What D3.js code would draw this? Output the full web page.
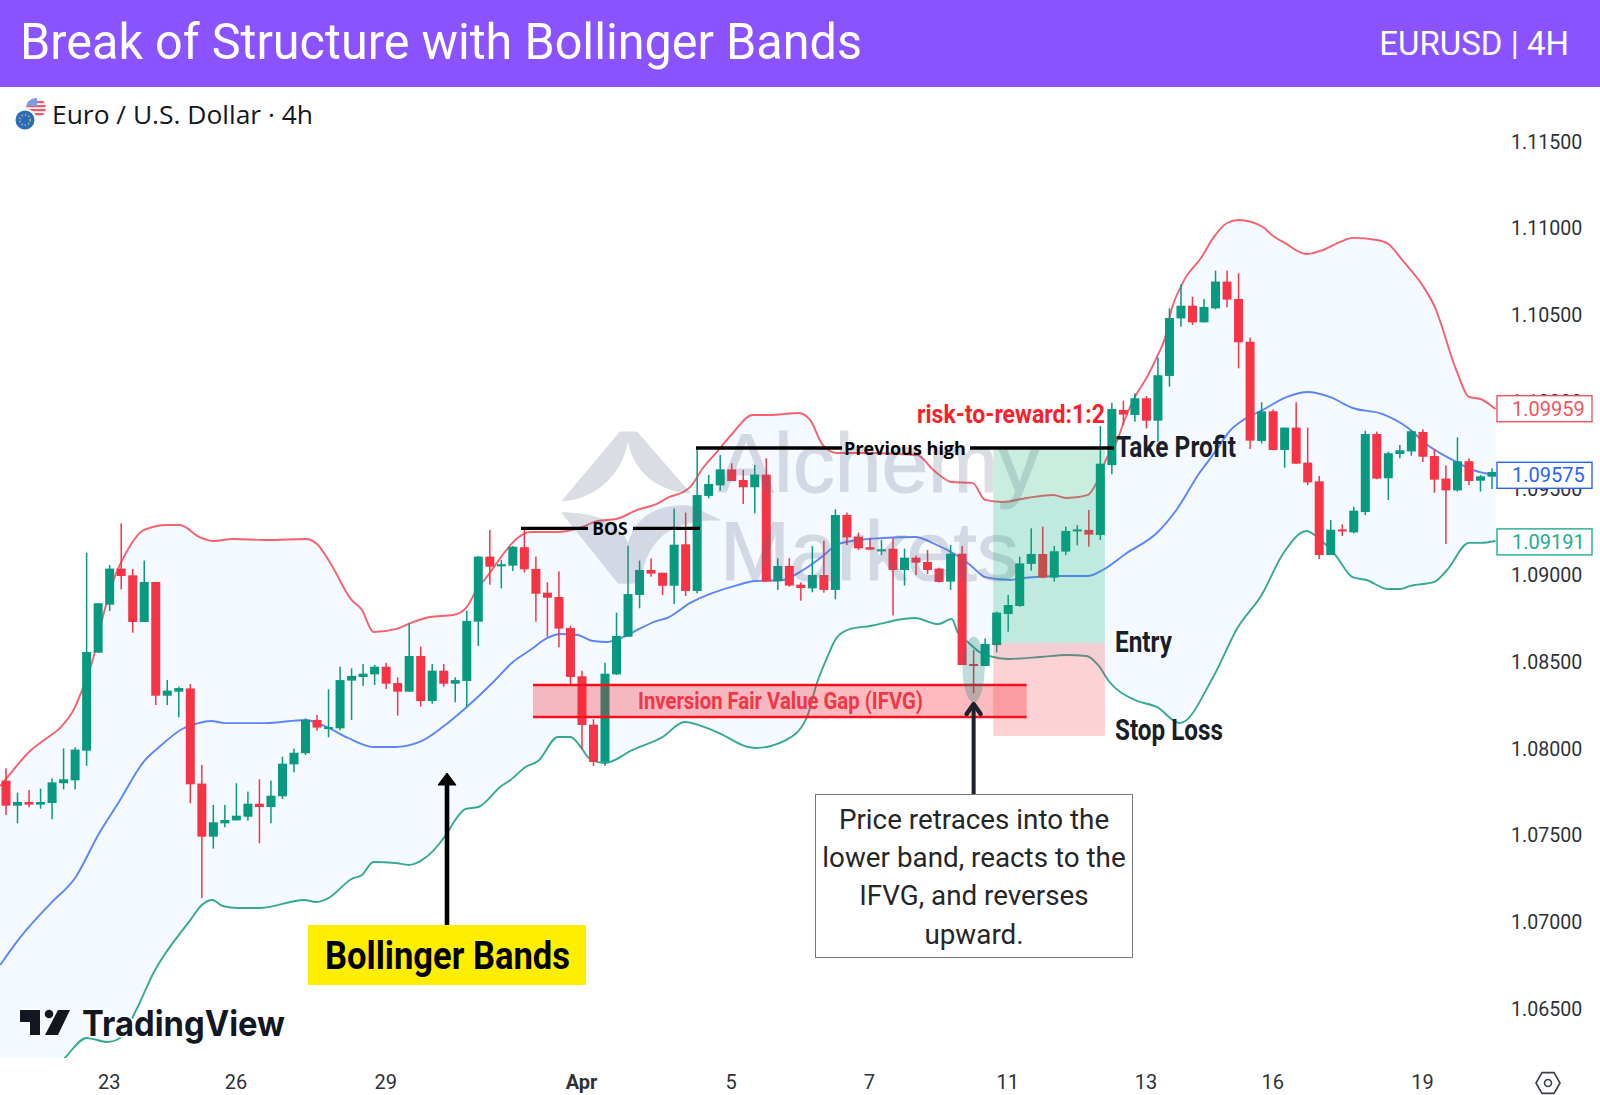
<!DOCTYPE html>
<html>
<head>
<meta charset="utf-8">
<script src="https://cdn.jsdelivr.net/npm/d3@7"></script>
<style>
  html, body { margin: 0; padding: 0; background: #fff; }
  svg { display: block; }
</style>
</head>
<body>
<div id="chart"></div>
<script>
const opens = [
  1.07814,1.07670,1.07691,1.07676,1.07685,1.07799,1.07816,1.07987,1.08552,1.08829,
  1.09037,1.08998,1.08729,1.08960,1.08304,1.08327,1.08346,1.07797,1.07491,1.07568,
  1.07585,1.07606,1.07681,1.07662,1.07724,1.07908,1.07972,1.08164,1.08118,1.08116,
  1.08391,1.08412,1.08427,1.08471,1.08377,1.08327,1.08533,1.08273,1.08448,1.08373,
  1.08389,1.08731,1.09106,1.09050,1.09054,1.09160,1.09035,1.08898,1.08873,1.08694,
  1.08416,1.08137,1.07922,1.08427,1.08644,1.08885,1.09029,1.09013,1.08938,1.09177,
  1.08908,1.09456,1.09517,1.09609,1.09548,1.09506,1.09579,1.08964,1.09052,1.08944,
  1.08923,1.09000,1.08914,1.09346,1.09221,1.09160,1.09144,1.09152,1.09029,1.09100,
  1.09075,1.09037,1.08962,1.09123,1.08487,1.08475,1.08596,1.08775,1.08821,1.09064,
  1.09121,1.08985,1.09135,1.09256,1.09260,1.09231,1.09634,1.09952,1.09923,1.10019,
  1.09890,1.10148,1.10480,1.10553,1.10457,1.10538,1.10692,1.10592,1.10345,1.09773,
  1.09944,1.09721,1.09850,1.09648,1.09540,1.09115,1.09263,1.09246,1.09363,1.09813,
  1.09558,1.09698,1.09713,1.09825,1.09686,1.09556,1.09488,1.09656,1.09544,1.09567
]
const highs = [
  1.07885,1.07745,1.07760,1.07768,1.07827,1.08000,1.08006,1.09129,1.08837,1.09058,
  1.09298,1.09035,1.09083,1.08960,1.08395,1.08356,1.08371,1.07904,1.07674,1.07674,
  1.07799,1.07751,1.07822,1.07814,1.07952,1.07999,1.08173,1.08193,1.08341,1.08471,
  1.08462,1.08487,1.08481,1.08494,1.08410,1.08721,1.08587,1.08487,1.08487,1.08410,
  1.08794,1.09110,1.09260,1.09086,1.09167,1.09260,1.09106,1.08958,1.09021,1.08708,
  1.08448,1.08168,1.08494,1.08783,1.09169,1.09083,1.09096,1.09013,1.09384,1.09360,
  1.09736,1.09577,1.09692,1.09644,1.09606,1.09634,1.09673,1.09096,1.09096,1.08958,
  1.09167,1.09198,1.09379,1.09360,1.09244,1.09215,1.09202,1.09212,1.09152,1.09112,
  1.09144,1.09042,1.09173,1.09167,1.08568,1.08635,1.08789,1.08885,1.09106,1.09269,
  1.09279,1.09167,1.09279,1.09288,1.09375,1.09859,1.09994,1.10005,1.10048,1.10032,
  1.10255,1.10538,1.10676,1.10605,1.10592,1.10755,1.10755,1.10740,1.10369,1.09996,
  1.09955,1.09850,1.09996,1.09850,1.09571,1.09317,1.09292,1.09394,1.09832,1.09827,
  1.09711,1.09750,1.09836,1.09840,1.09725,1.09631,1.09794,1.09673,1.09577,1.09615
]
const lows = [
  1.07616,1.07568,1.07660,1.07652,1.07591,1.07764,1.07764,1.07900,1.08552,1.08792,
  1.08917,1.08667,1.08729,1.08250,1.08250,1.08179,1.07683,1.07137,1.07422,1.07545,
  1.07585,1.07583,1.07453,1.07568,1.07708,1.07862,1.07962,1.08102,1.08064,1.08105,
  1.08164,1.08360,1.08366,1.08343,1.08189,1.08327,1.08241,1.08258,1.08356,1.08266,
  1.08241,1.08591,1.08944,1.08923,1.09023,1.09015,1.08731,1.08644,1.08583,1.08371,
  1.07995,1.07899,1.07899,1.08423,1.08644,1.08808,1.08990,1.08885,1.08833,1.08879,
  1.08894,1.09442,1.09486,1.09542,1.09410,1.09356,1.08962,1.08914,1.08933,1.08852,
  1.08900,1.08898,1.08860,1.09173,1.09144,1.09144,1.09115,1.08767,1.08939,1.09000,
  1.09006,1.08956,1.08914,1.08481,1.08318,1.08475,1.08554,1.08673,1.08817,1.09025,
  1.08981,1.08962,1.09115,1.09171,1.09163,1.09202,1.09581,1.09865,1.09884,1.09846,
  1.09769,1.10086,1.10432,1.10442,1.10457,1.10532,1.10544,1.10192,1.09727,1.09759,
  1.09721,1.09619,1.09642,1.09519,1.09092,1.09115,1.09225,1.09240,1.09346,1.09552,
  1.09433,1.09673,1.09688,1.09652,1.09475,1.09179,1.09481,1.09519,1.09481,1.09496
]
const closes = [
  1.07670,1.07691,1.07676,1.07691,1.07804,1.07822,1.07993,1.08556,1.08837,1.09037,
  1.08994,1.08729,1.08960,1.08304,1.08333,1.08348,1.07793,1.07491,1.07574,1.07587,
  1.07612,1.07681,1.07662,1.07727,1.07912,1.07975,1.08164,1.08120,1.08123,1.08394,
  1.08418,1.08431,1.08471,1.08373,1.08327,1.08533,1.08273,1.08448,1.08373,1.08394,
  1.08735,1.09106,1.09048,1.09062,1.09163,1.09033,1.08892,1.08869,1.08691,1.08412,
  1.08135,1.07922,1.08431,1.08648,1.08890,1.09029,1.09008,1.08938,1.09175,1.08908,
  1.09461,1.09525,1.09609,1.09542,1.09506,1.09579,1.08962,1.09052,1.08939,1.08925,
  1.09000,1.08914,1.09346,1.09217,1.09154,1.09146,1.09148,1.09029,1.09100,1.09071,
  1.09029,1.08960,1.09123,1.08481,1.08475,1.08602,1.08783,1.08827,1.09067,1.09121,
  1.08985,1.09137,1.09254,1.09263,1.09233,1.09642,1.09957,1.09925,1.10019,1.09890,
  1.10152,1.10482,1.10553,1.10457,1.10546,1.10692,1.10588,1.10342,1.09775,1.09944,
  1.09721,1.09850,1.09642,1.09534,1.09115,1.09261,1.09252,1.09371,1.09813,1.09556,
  1.09702,1.09719,1.09829,1.09682,1.09550,1.09488,1.09656,1.09542,1.09569,1.09594
]

// bollinger lines, [candle index, price] at the visible bends
const upperBand = [
  [-0.5,1.07783],[0,1.07824],[2,1.07979],[3.8,1.08072],[4.7,1.08118],[6,1.08239],[6.6,1.08337],[7.6,1.08527],[8.4,1.08758],[9.6,1.09017],
  [10.1,1.09087],[12,1.09260],[14,1.09288],[15.1,1.09288],[16.8,1.09219],[18,1.09196],[19.7,1.09208],[22.7,1.09202],[26,1.09208],[27,1.09179],
  [28.1,1.09075],[30,1.08856],[30.9,1.08798],[31.9,1.08671],[33.9,1.08689],[35.1,1.08723],[36.8,1.08758],[38.8,1.08769],[40,1.08815],[40.7,1.08896],
  [42,1.09012],[43.1,1.09115],[44.4,1.09213],[45.5,1.09248],[47.8,1.09248],[49.8,1.09271],[51.3,1.09311],[53,1.09323],[54.8,1.09375],[56.5,1.09410],
  [57.6,1.09450],[58.8,1.09479],[59.4,1.09508],[60.5,1.09617],[61.7,1.09709],[63.1,1.09819],[64.8,1.09923],[66.3,1.09923],[68.8,1.09934],[69.8,1.09894],
  [70.9,1.09750],[72.1,1.09704],[74.7,1.09704],[79.1,1.09692],[80.5,1.09606],[82.1,1.09536],[83.9,1.09531],[85,1.09433],[86.5,1.09421],[88.6,1.09444],
  [90.9,1.09461],[92.1,1.09444],[93.9,1.09461],[94.7,1.09536],[95.6,1.09681],[96.4,1.09767],[97.1,1.09894],[98,1.10027],[99,1.10136],[99.9,1.10257],
  [100.8,1.10413],[101,1.10482],[102.1,1.10678],[103.8,1.10834],[104.8,1.10944],[106,1.11030],[107,1.11047],[109.1,1.11007],[110,1.10955],[111,1.10915],
  [112.9,1.10851],[114.1,1.10869],[116,1.10926],[116.9,1.10944],[119,1.10932],[120,1.10909],[121.2,1.10817],[123,1.10667],[124,1.10551],[125.9,1.10182],
  [127,1.10027],[128,1.10015],[129.3,1.09957]
]
const middleBand = [
  [-0.5,1.06751],[1.2,1.06907],[3.9,1.07108],[6,1.07253],[8.1,1.07512],[9.8,1.07691],[12,1.07927],[13.2,1.08002],[15.3,1.08112],[16.7,1.08146],
  [17.8,1.08158],[19,1.08146],[22.5,1.08146],[26,1.08164],[28,1.08118],[29.7,1.08060],[31.9,1.08008],[33.8,1.08008],[35.9,1.08037],[37.9,1.08123],
  [40,1.08239],[42.3,1.08383],[44,1.08498],[45.5,1.08567],[47,1.08637],[48.1,1.08660],[49.6,1.08654],[51,1.08619],[52.2,1.08614],[53.6,1.08642],
  [54.8,1.08683],[56.5,1.08735],[57.4,1.08752],[59.4,1.08839],[63.5,1.08942],[65,1.08965],[67.4,1.08971],[69.2,1.09029],[70.7,1.09098],[72.1,1.09173],
  [73.4,1.09196],[76.1,1.09213],[78.9,1.09219],[80.8,1.09173],[82.2,1.09127],[83.7,1.09058],[85,1.08988],[87.2,1.08971],[88.3,1.08983],[91.5,1.08994],
  [93.9,1.08994],[95.2,1.09029],[97.3,1.09127],[99.9,1.09242],[101.6,1.09375],[103.6,1.09588],[104.9,1.09704],[106.3,1.09836],[107.4,1.09894],[109.1,1.09952],
  [111.2,1.10027],[113,1.10055],[114.9,1.10027],[116.9,1.09963],[119.5,1.09928],[121.6,1.09854],[123.4,1.09750],[125.6,1.09663],[127.3,1.09606],[129.3,1.09577]
]
const lowerBand = [
  [-0.5,1.05828],[5.1,1.06215],[7,1.06330],[8.8,1.06307],[9.9,1.06330],[11.3,1.06491],[12.8,1.06705],[16,1.07010],[17,1.07097],[17.9,1.07126],
  [18.8,1.07091],[20.1,1.07080],[22.1,1.07080],[25.9,1.07126],[26.9,1.07114],[28,1.07137],[30,1.07247],[30.9,1.07270],[31.9,1.07345],[33.8,1.07339],
  [35,1.07328],[36,1.07351],[38.3,1.07512],[39,1.07587],[39.9,1.07651],[41,1.07662],[43,1.07783],[43.8,1.07818],[45.1,1.07893],[46.2,1.07927],
  [47.9,1.08066],[49,1.08066],[49.9,1.08008],[50.6,1.07945],[52,1.07916],[54.4,1.07991],[57,1.08066],[58.9,1.08152],[61.5,1.08100],[65,1.08002],
  [67.7,1.08048],[69.5,1.08175],[70.4,1.08377],[71.3,1.08527],[72.1,1.08637],[73.3,1.08689],[75,1.08706],[77.9,1.08746],[78.9,1.08752],[80.9,1.08717],
  [82.1,1.08746],[82.6,1.08671],[83.5,1.08614],[84.5,1.08556],[85.7,1.08527],[87,1.08516],[89.8,1.08527],[92.1,1.08539],[93.8,1.08533],[94.8,1.08481],
  [95.8,1.08383],[98,1.08279],[99.9,1.08239],[101.9,1.08146],[104.8,1.08412],[106.9,1.08694],[109,1.08885],[110.9,1.09127],[112.9,1.09254],[113.6,1.09231],
  [115.4,1.09115],[116.9,1.08988],[118.1,1.08971],[120,1.08919],[121,1.08919],[121.9,1.08937],[124,1.08960],[125.1,1.09029],[127,1.09185],[128,1.09185],
  [129.3,1.09196]
]

const priceTicks = [1.115, 1.11, 1.105, 1.1, 1.095, 1.09, 1.085, 1.08, 1.075, 1.07, 1.065]
const dateTicks = [9, 20, 33, 50, 63, 75, 87, 99, 110, 123]
const dateLabels = ['23', '26', '29', 'Apr', '5', '7', '11', '13', '16', '19']
const lastValues = [1.09959, 1.09575, 1.09191]
const lastColors = ['#f7525f', '#2962ff', '#22ab94']
const noteLines = ['Price retraces into the', 'lower band, reacts to the', 'IFVG, and reverses', 'upward.']

const width = 1600, height = 1095
const plotRight = 1496, plotBottom = 1058

const svg = d3.select('#chart').append('svg').attr('width', width).attr('height', height)
  .style('font-family', 'Roboto, sans-serif')

const x = d3.scaleLinear().domain([0, 129]).range([6, 1492])
const y = d3.scaleLinear().domain([1.09, 1.115]).range([575, 141.5])

const defs = svg.append('defs')
defs.append('clipPath').attr('id', 'plot')
  .append('rect').attr('x', 0).attr('y', 87).attr('width', plotRight).attr('height', plotBottom - 87)
defs.append('clipPath').attr('id', 'usflag')
  .append('circle').attr('cx', 36).attr('cy', 108).attr('r', 10)

const plot = svg.append('g').attr('clip-path', 'url(#plot)')
const path = d3.line().x(d => x(d[0])).y(d => y(d[1])).curve(d3.curveMonotoneX)

// band fill and lines
const lowerBack = d3.line().x(d => x(d[0])).y(d => y(d[1])).curve(d3.curveLinear)
plot.append('path')
  .attr('d', lowerBack(upperBand.concat(lowerBand.slice().reverse())) + 'Z')
  .attr('fill', '#f4faff')
plot.selectAll('.band').data([[upperBand, '#f7606c'], [middleBand, '#5b85fb'], [lowerBand, '#35a993']]).enter()
  .append('path').attr('class', 'band')
  .attr('d', d => path(d[0])).attr('fill', 'none').attr('stroke', d => d[1]).attr('stroke-width', 1.9)

// candles
const up = i => closes[i] >= opens[i]
const candleColor = i => up(i) ? '#089981' : '#f73445'
const idx = d3.range(opens.length)
plot.selectAll('.wick').data(idx).enter().append('rect').attr('class', 'wick')
  .attr('x', i => x(i) - 0.75).attr('width', 1.5)
  .attr('y', i => y(highs[i])).attr('height', i => y(lows[i]) - y(highs[i]))
  .attr('fill', candleColor)
plot.selectAll('.body').data(idx).enter().append('rect').attr('class', 'body')
  .attr('x', i => x(i) - 4.5).attr('width', 9)
  .attr('y', i => y(Math.max(opens[i], closes[i])))
  .attr('height', i => Math.max(2, Math.abs(y(opens[i]) - y(closes[i]))))
  .attr('fill', candleColor)

// alchemy watermark
const wm = svg.append('g').attr('fill', 'rgb(95,105,135)').attr('stroke', 'rgb(95,105,135)').attr('stroke-width', 1).attr('opacity', 0.22)
wm.append('path').attr('d', 'M562,501 L620,432 L637,432 L690,493 C655,490 632,470 628,438 C624,470 600,498 562,501Z')
wm.append('path').attr('d', 'M562,513 C595,513 612,530 618,583 L640,583 C645,545 665,518 720,520 L690,506 C660,504 635,515 628,545 C622,525 600,513 562,513Z')
wm.append('path').attr('d', 'M562,513 L618,583 L632,583 C625,540 600,516 562,513Z')
wm.append('text').attr('x', 718).attr('y', 492).attr('font-family', 'Liberation Sans').attr('font-size', 84).text('Alchemy')
wm.append('text').attr('x', 720).attr('y', 580).attr('font-family', 'Liberation Sans').attr('font-size', 84).text('Markets')

// risk / reward boxes
const box = (i0, i1, p0, p1, fill) => svg.append('rect')
  .attr('x', x(i0)).attr('width', x(i1) - x(i0))
  .attr('y', y(p0)).attr('height', y(p1) - y(p0))
  .attr('fill', fill)
box(85.7, 95.4, 1.09721, 1.08608, 'rgba(8,175,110,0.22)')
box(85.7, 95.4, 1.08608, 1.08072, 'rgba(247,50,65,0.22)')

// ifvg zone
box(45.75, 88.6, 1.08366, 1.08181, 'rgba(247,30,45,0.3)')
;[1.08366, 1.08181].forEach(p => {
  svg.append('line').attr('x1', x(45.75)).attr('x2', x(88.6)).attr('y1', y(p)).attr('y2', y(p))
    .attr('stroke', '#f5101f').attr('stroke-width', 2.4)
})

// reaction marker
svg.append('ellipse').attr('cx', x(84)).attr('cy', 669.5).attr('rx', 11).attr('ry', 33)
  .attr('fill', 'rgba(8,130,115,0.27)')

// header
svg.append('rect').attr('width', width).attr('height', 87).attr('fill', '#8b53ff')

const label = (s, px, py, size, weight, fill, len, anchor) => {
  const t = svg.append('text').attr('x', px).attr('y', py).attr('font-size', size)
    .attr('font-weight', weight).attr('fill', fill).attr('dy', '0.35em')
    .attr('text-anchor', anchor || 'start').text(s)
  if (len) t.attr('textLength', len).attr('lengthAdjust', 'spacingAndGlyphs')
  return t
}
label('Break of Structure with Bollinger Bands', 20, 41, 50, 400, '#fff', 842)
label('EURUSD | 4H', 1569, 43, 33, 400, '#fff', null, 'end')

// structure lines
const hline = (i0, i1, p) => svg.append('line')
  .attr('x1', i0).attr('x2', i1).attr('y1', y(p)).attr('y2', y(p))
  .attr('stroke', '#000').attr('stroke-width', 3.4)
hline(521, 588, 1.09269)
hline(633, 700, 1.09269)
hline(696, 842, 1.09732)
hline(970, 1114, 1.09732)
svg.append('text').attr('x', 610).attr('y', y(1.09269)).attr('dy', '0.36em').attr('text-anchor', 'middle')
  .attr('font-family', 'Open Sans').attr('font-weight', 700).attr('font-size', 17.5).attr('fill', '#000').text('BOS')
svg.append('text').attr('x', 905).attr('y', y(1.09732)).attr('dy', '0.36em').attr('text-anchor', 'middle')
  .attr('font-family', 'Open Sans').attr('font-weight', 700).attr('font-size', 18).attr('fill', '#000').text('Previous high')

// condensed callouts
label('risk-to-reward:1:2', 917, 414, 25, 700, '#fb1f2c', 188)
label('Inversion Fair Value Gap (IFVG)', 638, 701, 23, 700, '#f23645', 285)
label('Take Profit', 1116, 447, 29, 700, '#1b1e26', 120)
label('Entry', 1115, 642, 29, 700, '#1b1e26', 57)
label('Stop Loss', 1115, 730, 29, 700, '#1b1e26', 108)

// arrows
svg.append('line').attr('x1', x(84)).attr('x2', x(84)).attr('y1', 708).attr('y2', 794)
  .attr('stroke', '#1d212b').attr('stroke-width', 4)
svg.append('path').attr('d', `M${x(84) - 7},${714} L${x(84)},${704} L${x(84) + 7},${714}`)
  .attr('fill', 'none').attr('stroke', '#1d212b').attr('stroke-width', 4.4)
  .attr('stroke-linecap', 'round').attr('stroke-linejoin', 'round')
svg.append('line').attr('x1', 447).attr('x2', 447).attr('y1', 780).attr('y2', 925).attr('stroke', '#000').attr('stroke-width', 4.6)
svg.append('path').attr('d', 'M438,785 L447,773 L456,785Z').attr('fill', '#000').attr('stroke', '#000').attr('stroke-linejoin', 'round')

// bollinger tag
svg.append('rect').attr('x', 308).attr('y', 925).attr('width', 278).attr('height', 60).attr('fill', '#ffee00')
label('Bollinger Bands', 325, 955, 39, 700, '#000', 245)

// note box
svg.append('rect').attr('x', 815.5).attr('y', 794.5).attr('width', 317).attr('height', 163)
  .attr('fill', '#fff').attr('stroke', '#777').attr('stroke-width', 1)
noteLines.forEach((s, i) => label(s, 974, 819 + i * 38.3, 27.8, 400, '#262626', null, 'middle'))

// legend with flag icon
const flag = svg.append('g')
const us = flag.append('g').attr('clip-path', 'url(#usflag)')
us.append('rect').attr('x', 26).attr('y', 98).attr('width', 20).attr('height', 20).attr('fill', '#f6f7fb')
;[101, 105, 109, 113].forEach(s => us.append('rect').attr('x', 26).attr('y', s).attr('width', 20).attr('height', 2.2).attr('fill', '#ef5a63'))
us.append('rect').attr('x', 26).attr('y', 98).attr('width', 11).attr('height', 8).attr('fill', '#7e9de6')
flag.append('circle').attr('cx', 25).attr('cy', 120).attr('r', 11.5).attr('fill', '#fff')
flag.append('circle').attr('cx', 25).attr('cy', 120).attr('r', 9.5).attr('fill', '#2a6bc0')
flag.append('circle').attr('cx', 25).attr('cy', 120).attr('r', 5.2).attr('fill', 'none')
  .attr('stroke', '#d9c94a').attr('stroke-width', 1.4).attr('stroke-dasharray', '1.4 2')
svg.append('text').attr('x', 52).attr('y', 115).attr('dy', '0.36em').attr('font-family', 'Open Sans')
  .attr('font-size', 25.5).attr('fill', '#131722').attr('textLength', 261).attr('lengthAdjust', 'spacingAndGlyphs')
  .text('Euro / U.S. Dollar · 4h')

// tradingview mark
const tv = svg.append('g').attr('fill', '#131722').attr('stroke', '#fff').attr('stroke-width', 1.4).attr('paint-order', 'stroke')
tv.append('path').attr('d', 'M20,1010 H40 V1035 H30 V1022 H20Z')
tv.append('circle').attr('cx', 49).attr('cy', 1014).attr('r', 4.3)
tv.append('path').attr('d', 'M58,1010 H70 L58,1035 H45Z')
tv.append('text').attr('x', 82).attr('y', 1023).attr('dy', '0.36em').attr('font-family', 'Inter')
  .attr('font-weight', 700).attr('font-size', 35).attr('textLength', 203).attr('lengthAdjust', 'spacingAndGlyphs')
  .attr('stroke-width', 3).text('TradingView')

// axes
const yAxis = d3.axisRight(y).tickValues(priceTicks).tickFormat(d3.format('.5f')).tickSize(0).tickPadding(0)
const yg = svg.append('g').attr('transform', 'translate(1511,0.5)').call(yAxis)
yg.select('.domain').remove()
yg.selectAll('text').attr('font-family', 'Roboto').attr('font-size', 19.6).attr('fill', '#2e3238')

const xAxis = d3.axisBottom(x).tickValues(dateTicks).tickFormat((d, i) => dateLabels[i]).tickSize(0).tickPadding(0)
const xg = svg.append('g').attr('transform', 'translate(-1,1075)').call(xAxis)
xg.select('.domain').remove()
xg.selectAll('text').attr('font-family', 'Roboto').attr('font-size', 20).attr('fill', '#2e3238')
  .attr('font-weight', (d, i) => dateLabels[i] === 'Apr' ? 700 : 400)

// last value tags
lastValues.forEach((v, i) => {
  const cy = y(v)
  svg.append('rect').attr('x', 1497).attr('y', cy - 13).attr('width', 95).attr('height', 26)
    .attr('fill', '#fff').attr('stroke', lastColors[i]).attr('stroke-width', 1.4)
  svg.append('text').attr('x', 1512).attr('y', cy).attr('dy', '0.36em').attr('font-size', 20)
    .attr('fill', lastColors[i]).text(d3.format('.5f')(v))
})

// settings glyph
const hex = d3.range(6).map(k => [1548 + 12 * Math.cos(k * Math.PI / 3), 1083 + 12 * Math.sin(k * Math.PI / 3)])
svg.append('path').attr('d', d3.line()(hex) + 'Z').attr('fill', 'none').attr('stroke', '#3a3e46').attr('stroke-width', 1.6)
svg.append('circle').attr('cx', 1548).attr('cy', 1083).attr('r', 3.5).attr('fill', 'none').attr('stroke', '#3a3e46').attr('stroke-width', 1.6)
</script>
</body>
</html>
